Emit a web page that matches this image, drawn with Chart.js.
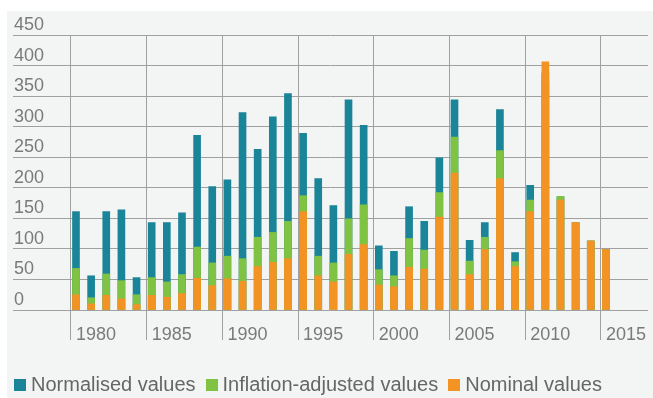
<!DOCTYPE html>
<html>
<head>
<meta charset="utf-8">
<script src="https://cdn.jsdelivr.net/npm/chart.js@4.4.1/dist/chart.umd.min.js"></script>
<style>
  html, body { margin: 0; padding: 0; background: #ffffff; overflow: hidden; }
  #panel {
    position: absolute;
    left: 7px;
    top: 11px;
    width: 646px;
    height: 387px;
    overflow: hidden;
    background: #f3f4f4;
  }
</style>
</head>
<body>
<div id="panel">
  <canvas id="valuesChart" width="646" height="398"></canvas>
</div>
<script>
// Yearly values, 1980-2015
const years = [
    1980, 1981, 1982, 1983, 1984, 1985, 1986, 1987, 1988, 1989,
    1990, 1991, 1992, 1993, 1994, 1995, 1996, 1997, 1998, 1999,
    2000, 2001, 2002, 2003, 2004, 2005, 2006, 2007, 2008, 2009,
    2010, 2011, 2012, 2013, 2014, 2015
];
const normalised = [
    161, 56, 161, 164, 53, 143, 143, 159, 286, 202,
    213, 323, 263, 316, 354, 289, 215, 171, 344, 302,
    105, 96, 169, 145, 249, 344, 114, 143, 328, 94,
    204, 388, 185, 143, 113, 99
];
const inflationAdjusted = [
    68, 20, 59, 48, 25, 53, 46, 58, 103, 77,
    88, 84, 119, 127, 145, 187, 88, 77, 149, 172,
    66, 56, 117, 98, 192, 283, 80, 119, 261, 79,
    180, 372, 186, 143, 113, 99
];
const nominal = [
    25, 10, 24, 18, 9, 24, 21, 27, 52, 40,
    51, 47, 71, 78, 84, 161, 56, 46, 91, 107,
    41, 38, 70, 67, 152, 224, 58, 99, 215, 71,
    161, 406, 180, 143, 113, 99
];

// Tick labels
const yTickValues = [0, 50, 100, 150, 200, 250, 300, 350, 400, 450];
const xTickYears = [1980, 1985, 1990, 1995, 2000, 2005, 2010, 2015];

const seriesColors = ['#1a8498', '#80c242', '#f39323'];
const gridColor = '#a0a0a0';
const tickColor = '#7a7a7a';

function points(values) {
    return years.map((year, i) => ({ x: year, y: values[i] }));
}

// square legend swatches, drawn as images so the text can sit close to them
const swatches = seriesColors.map(color => {
    const c = document.createElement('canvas');
    c.width = 12;
    c.height = 12;
    const g = c.getContext('2d');
    g.fillStyle = color;
    g.fillRect(0, 0, 12, 12);
    return c;
});

const valuesData = {
    datasets: [{
        label: 'Normalised values',
        data: points(normalised),
        backgroundColor: seriesColors[0],
        order: 2
    }, {
        label: 'Inflation-adjusted values',
        data: points(inflationAdjusted),
        backgroundColor: seriesColors[1],
        order: 1
    }, {
        label: 'Nominal values',
        data: points(nominal),
        backgroundColor: seriesColors[2],
        order: 0
    }]
};

const valuesChartConfig = {
    type: 'bar',
    data: valuesData,
    options: {
        responsive: false,
        animation: false,
        devicePixelRatio: 1,
        grouped: false,
        barThickness: 7,
        layout: {
            padding: { left: -3, right: 5, top: 24, bottom: 4 }
        },
        scales: {
            // bar positions
            x: {
                type: 'linear',
                display: false,
                offset: false,
                min: 1975.84,
                max: 2017.78
            },
            // year lines and labels, set slightly left of each bar
            xg: {
                type: 'linear',
                position: 'bottom',
                offset: false,
                min: 1976.17,
                max: 2018.11,
                afterBuildTicks: (axis) => {
                    axis.ticks = xTickYears.map(v => ({ value: v }));
                },
                afterFit: (axis) => {
                    axis.height = 50;
                },
                grid: {
                    offset: false,
                    color: gridColor,
                    lineWidth: 1,
                    tickLength: 30
                },
                border: { display: false },
                ticks: {
                    align: 'start',
                    labelOffset: 5,
                    padding: -16,
                    maxRotation: 0,
                    color: tickColor,
                    font: { family: 'Liberation Sans', size: 18 },
                    callback: (value) => String(value)
                }
            },
            y: {
                min: 0,
                max: 450,
                afterBuildTicks: (axis) => {
                    axis.ticks = yTickValues.map(v => ({ value: v }));
                },
                afterFit: (axis) => {
                    axis.width = 9;
                },
                grid: {
                    color: gridColor,
                    lineWidth: 1,
                    drawTicks: false
                },
                border: { display: false },
                ticks: {
                    mirror: true,
                    padding: 1,
                    labelOffset: -10,
                    color: tickColor,
                    font: { family: 'Liberation Sans', size: 18 }
                }
            }
        },
        plugins: {
            legend: {
                position: 'bottom',
                align: 'start',
                labels: {
                    usePointStyle: true,
                    pointStyleWidth: 2,
                    boxHeight: 12,
                    padding: 15,
                    color: '#666666',
                    font: { family: 'Liberation Sans', size: 20 },
                    generateLabels: (chart) => Chart.defaults.plugins.legend.labels
                        .generateLabels(chart)
                        .map(item => ({ ...item, pointStyle: swatches[item.datasetIndex] })),
                    sort: (a, b) => a.datasetIndex - b.datasetIndex
                }
            },
            tooltip: { enabled: false }
        }
    }
};

const valuesCtx = document.getElementById('valuesChart').getContext('2d');
const valuesChart = new Chart(valuesCtx, valuesChartConfig);
</script>
</body>
</html>
